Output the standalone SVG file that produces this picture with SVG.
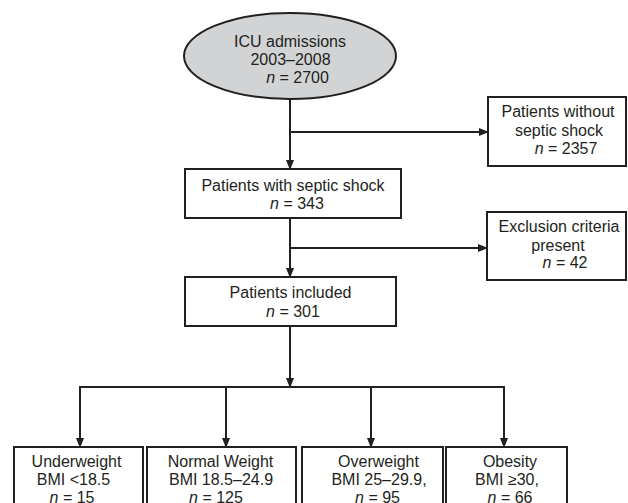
<svg xmlns="http://www.w3.org/2000/svg" width="628" height="503" viewBox="0 0 628 503">
<style>
.box{fill:#ffffff;stroke:#231f20;stroke-width:2}
.ell{fill:#d1d3d4;stroke:#231f20;stroke-width:2}
.ln{fill:none;stroke:#231f20;stroke-width:2}
text{font-family:"Liberation Sans",Arial,sans-serif;font-size:16px;fill:#231f20;text-anchor:middle}
.i{font-style:italic}
</style>
<defs>
<marker id="arr" viewBox="0 0 10 8" refX="9" refY="4" markerWidth="10" markerHeight="8" markerUnits="userSpaceOnUse" orient="auto">
<path d="M0,0 L10,4 L0,8 z" fill="#231f20"/>
</marker>
</defs>
<rect width="628" height="503" fill="#ffffff"/>
<g id="connectors">
<line class="ln" x1="290" y1="99" x2="290" y2="169" marker-end="url(#arr)"/>
<line class="ln" x1="290" y1="132" x2="488" y2="132" marker-end="url(#arr)"/>
<line class="ln" x1="290" y1="218" x2="290" y2="277" marker-end="url(#arr)"/>
<line class="ln" x1="290" y1="248" x2="487" y2="248" marker-end="url(#arr)"/>
<line class="ln" x1="290" y1="326" x2="290" y2="387" marker-end="url(#arr)"/>
<line class="ln" x1="79" y1="387" x2="505" y2="387"/>
<line class="ln" x1="80" y1="387" x2="80" y2="447" marker-end="url(#arr)"/>
<line class="ln" x1="226" y1="387" x2="226" y2="447" marker-end="url(#arr)"/>
<line class="ln" x1="371" y1="387" x2="371" y2="447" marker-end="url(#arr)"/>
<line class="ln" x1="504" y1="387" x2="504" y2="447" marker-end="url(#arr)"/>
</g>
<g id="icu">
<ellipse class="ell" cx="290" cy="56" rx="106" ry="43"/>
<text x="290" y="47">ICU admissions</text>
<text x="290.5" y="65">2003–2008</text>
<text x="297.5" y="83"><tspan class="i">n</tspan> = 2700</text>
</g>
<g id="without">
<rect class="box" x="488" y="97" width="138" height="69"/>
<text x="558" y="117">Patients without</text>
<text x="559" y="136">septic shock</text>
<text x="566" y="154"><tspan class="i">n</tspan> = 2357</text>
</g>
<g id="septic">
<rect class="box" x="185" y="169" width="216" height="49"/>
<text x="293" y="191">Patients with septic shock</text>
<text x="297" y="209"><tspan class="i">n</tspan> = 343</text>
</g>
<g id="exclusion">
<rect class="box" x="487" y="212" width="139" height="68"/>
<text x="559" y="232">Exclusion criteria</text>
<text x="558" y="251">present</text>
<text x="565" y="268"><tspan class="i">n</tspan> = 42</text>
</g>
<g id="included">
<rect class="box" x="185" y="277" width="211" height="49"/>
<text x="290.5" y="298">Patients included</text>
<text x="293" y="317"><tspan class="i">n</tspan> = 301</text>
</g>
<g id="underweight">
<rect class="box" x="14" y="447" width="129" height="70"/>
<text x="76.5" y="467">Underweight</text>
<text x="73.5" y="485">BMI &lt;18.5</text>
<text x="72" y="503"><tspan class="i">n</tspan> = 15</text>
</g>
<g id="normal">
<rect class="box" x="147" y="447" width="149" height="70"/>
<text x="220.5" y="467">Normal Weight</text>
<text x="221" y="485">BMI 18.5–24.9</text>
<text x="216" y="503"><tspan class="i">n</tspan> = 125</text>
</g>
<g id="overweight">
<rect class="box" x="302" y="447" width="141" height="70"/>
<text x="378.5" y="467">Overweight</text>
<text x="379" y="485">BMI 25–29.9,</text>
<text x="377.5" y="503"><tspan class="i">n</tspan> = 95</text>
</g>
<g id="obesity">
<rect class="box" x="446" y="447" width="121" height="70"/>
<text x="510" y="467">Obesity</text>
<text x="507" y="485">BMI ≥30,</text>
<text x="510" y="503"><tspan class="i">n</tspan> = 66</text>
</g>
</svg>
